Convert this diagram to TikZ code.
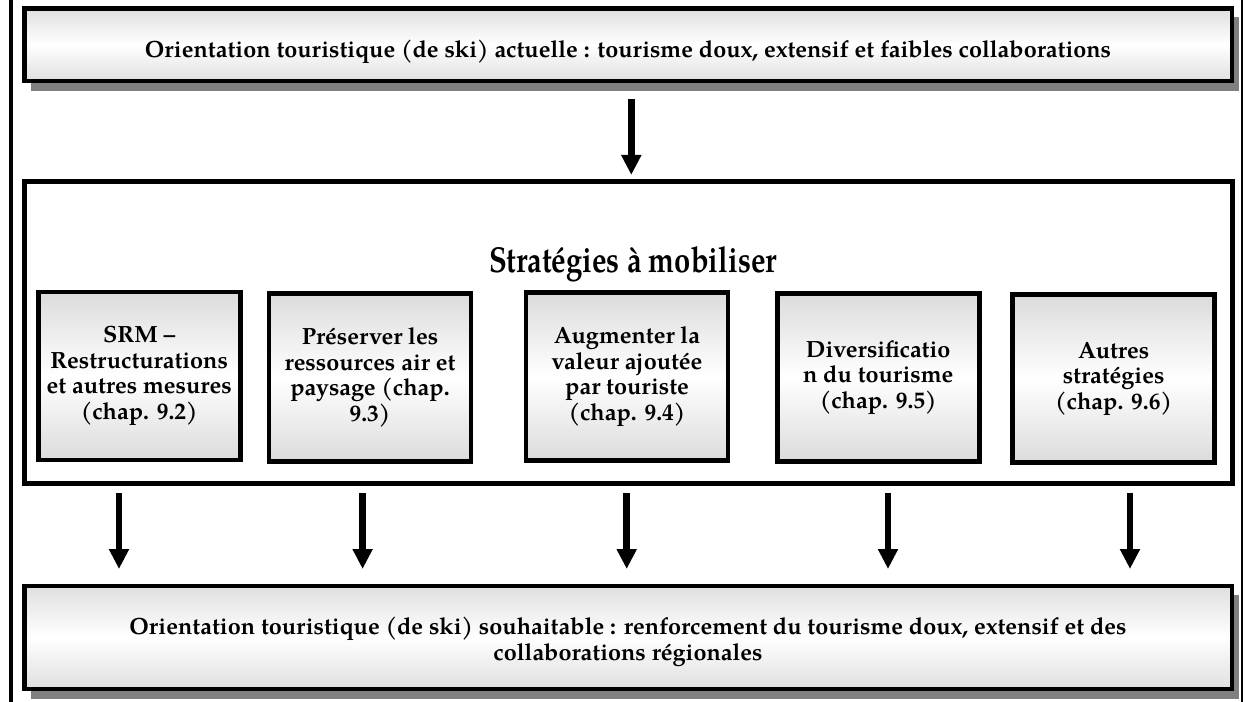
\documentclass[tikz,border=0pt]{standalone}
\usepackage{fontspec}
\setmainfont{TeX Gyre Pagella}
\newfontfamily\titlefont[FakeStretch=0.81]{TeX Gyre Pagella}
\usetikzlibrary{arrows.meta,calc,backgrounds,patterns.meta}
\begin{document}
\begin{tikzpicture}[x=0.75pt,y=-0.75pt,
  every node/.style={outer sep=0pt, inner sep=0pt},
  bannertxt/.style={font=\bfseries\fontsize{17.6}{19}\selectfont, align=center, anchor=base},
  banner/.style={draw=black, rectangle, line width=3.4pt,
    top color=gray!25, bottom color=gray!25, middle color=white},
  stratbox/.style={font=\bfseries\fontsize{17.6}{19.2}\selectfont, align=center,
    draw=black, rectangle, line width=3.6pt,
    minimum width=151.5pt, minimum height=126pt,
    top color=gray!28, bottom color=gray!28, middle color=white},
  shade/.style={fill=black!50},
  hatchshade/.style={fill=black!22, pattern={Hatch[angle=0,distance=4.5pt,line width=0.5pt]}, pattern color=black!55},
  arr/.style={line width=5pt, -{Triangle[width=14.25pt,length=15pt]}},
]
\useasboundingbox (0,0) rectangle (1247,702);

% side rules of the page frame
\draw[line width=3pt] (11,0) -- (11,702);
\draw[line width=1.5pt] (1242,0) -- (1242,702);

% current orientation
\node[banner, minimum width=905.6pt, minimum height=54.5pt] (top) at (628.2,44.7) {};
\node[bannertxt] (toptxt) at (628,58)
  {Orientation touristique (de ski) actuelle : tourisme doux, extensif et faibles collaborations};

% strategies frame
\node[draw=black, line width=3.75pt, fill=white, rectangle,
  minimum width=906pt, minimum height=226.5pt] (main) at (628.5,332.5) {};
\node[anchor=base, font=\titlefont\bfseries\fontsize{27}{30}\selectfont] (title) at (633,273)
  {Stratégies à mobiliser};

\node[stratbox] (s1) at (139.2,376) {SRM –\\Restructurations\\et autres mesures\\(chap. 9.2)};
\node[stratbox] (s2) at (370,377.5) {Préserver les\\ressources air et\\paysage (chap.\\9.3)};
\node[stratbox] (s3) at (627,376.6) {Augmenter la\\valeur ajoutée\\par touriste\\(chap. 9.4)};
\node[stratbox] (s4) at (878.2,377.2) {Diversificatio\\n du tourisme\\(chap. 9.5)};
\node[stratbox] (s5) at (1113.6,378.8) {Autres\\stratégies\\(chap. 9.6)};

% desired orientation
\node[banner, minimum width=905.8pt, minimum height=77.4pt] (bottom) at (628.2,637.4) {};
\node[bannertxt] (bottomtxt) at (628,660)
  {Orientation touristique (de ski) souhaitable : renforcement du tourisme doux, extensif et des\\collaborations régionales};

% drop shadows
\begin{scope}[on background layer]
  \fill[shade] ($(top.north west)+(7,9)$) rectangle ($(top.south east)+(7,10)$);
  \fill[shade] ($(bottom.north west)+(7,9)$) rectangle ($(bottom.south east)+(7,10)$);
  \fill[hatchshade] ($(s1.north west)+(7,7)$) rectangle ($(s1.south east)+(7,7)$);
  \fill[shade] ($(s2.north west)+(7,7)$) rectangle ($(s2.south east)+(7,7)$);
  \fill[shade] ($(s3.north west)+(7,7)$) rectangle ($(s3.south east)+(7,7)$);
  \fill[hatchshade] ($(s4.north west)+(7,7)$) rectangle ($(s4.south east)+(7,7)$);
  \fill[shade] ($(s5.north west)+(7,7)$) rectangle ($(s5.south east)+(7,7)$);
\end{scope}

% arrows
\coordinate (a0) at (631.3,0);
\draw[arr, shorten <=13.5pt, shorten >=4.9pt] (top.south -| a0) -- (main.north -| a0);
\foreach \i/\x in {1/119,2/362.6,3/626.7,4/888,5/1130}{
  \coordinate (a\i) at (\x,0);
  \draw[arr, shorten <=7.1pt, shorten >=12.6pt] (main.south -| a\i) -- (bottom.north -| a\i);
}
\end{tikzpicture}
\end{document}
